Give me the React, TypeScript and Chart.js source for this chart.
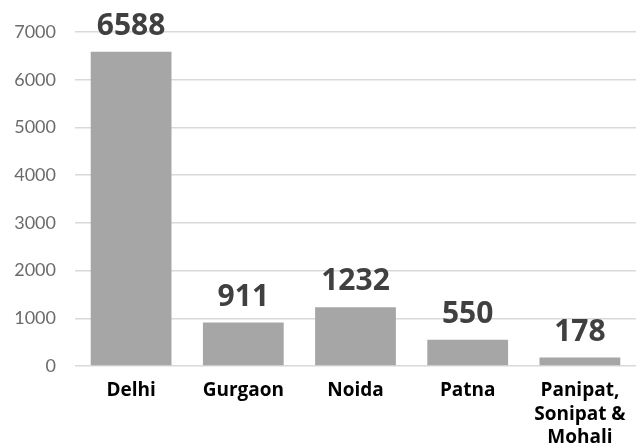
import React, { useEffect, useRef } from "react";
import { Chart, registerables } from "chart.js";

Chart.register(...registerables);

const categories: (string | string[])[] = [
  "Delhi",
  "Gurgaon",
  "Noida",
  "Patna",
  ["Panipat,", "Sonipat &", "Mohali"],
];
const values: number[] = [6588, 911, 1232, 550, 178];
const yTicks: number[] = [0, 1000, 2000, 3000, 4000, 5000, 6000, 7000];

const dataLabelPlugin = {
  id: "dataLabels",
  afterDatasetsDraw(chart: any) {
    const ctx = chart.ctx;
    const meta = chart.getDatasetMeta(0);
    ctx.save();
    ctx.font = "bold 30px 'Open Sans'";
    ctx.fillStyle = "#404040";
    ctx.textAlign = "center";
    ctx.textBaseline = "alphabetic";
    meta.data.forEach((bar: any, i: number) => {
      ctx.fillText(String(values[i]), bar.x, bar.y - 17);
    });
    ctx.restore();
  },
};

export default function App() {
  const ref = useRef<HTMLCanvasElement | null>(null);
  useEffect(() => {
    document.body.style.margin = "0";
    if (!ref.current) return;
    const chart = new Chart(ref.current, {
      type: "bar",
      data: {
        labels: categories,
        datasets: [
          {
            data: values,
            backgroundColor: "#a6a6a6",
            barPercentage: 0.72,
            categoryPercentage: 1,
          },
        ],
      },
      options: {
        animation: false,
        responsive: false,
        maintainAspectRatio: false,
        layout: { padding: { top: 32, right: 7, left: 0, bottom: 0 } },
        plugins: {
          legend: { display: false },
          tooltip: { enabled: false },
        },
        scales: {
          x: {
            grid: { display: false, drawTicks: false },
            border: { display: false },
            ticks: {
              color: "#000000",
              font: { family: "'Open Sans'", size: 19, weight: "bold", lineHeight: "23.5px" },
              padding: 13,
              maxRotation: 0,
              autoSkip: false,
            },
            afterFit(scale: any) {
              scale.height = 80;
            },
          },
          y: {
            min: 0,
            max: 7000,
            afterBuildTicks(scale: any) {
              scale.ticks = yTicks.map((v) => ({ value: v }));
            },
            grid: { color: "#d9d9d9", lineWidth: 1.5, drawTicks: false },
            border: { display: false },
            ticks: {
              color: "#6b6b6b",
              font: { family: "Lato", size: 18 },
              padding: 19,
              callback: (v: any) => String(v),
            },
            afterFit(scale: any) {
              scale.width = 75;
            },
          },
        },
      },
      plugins: [dataLabelPlugin],
    });
    return () => chart.destroy();
  }, []);
  return (
    <div style={{ width: 643, height: 446 }}>
      <canvas ref={ref} width={643} height={446} style={{ display: "block" }} />
    </div>
  );
}
